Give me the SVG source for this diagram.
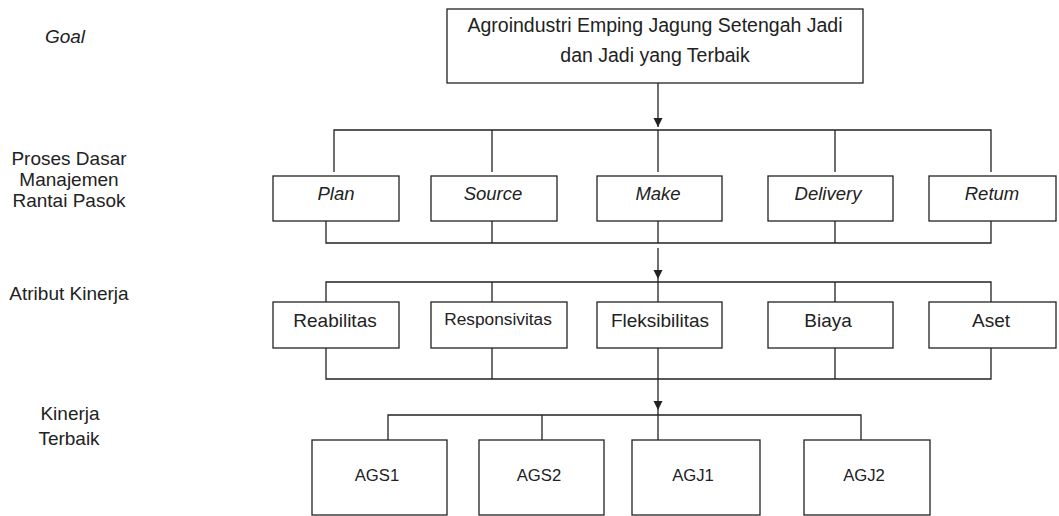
<svg xmlns="http://www.w3.org/2000/svg" width="1059" height="516" viewBox="0 0 1059 516">
  <style>
    .box { fill: #ffffff; stroke: #222222; stroke-width: 1.3; }
    .ln { fill: none; stroke: #222222; stroke-width: 1.3; }
    text { font-family: "Liberation Sans", Arial, sans-serif; fill: #222222; text-anchor: middle; }
    .lvl { font-size: 19px; }
    .it { font-style: italic; }
    .t18 { font-size: 18.5px; }
    .t19 { font-size: 19px; }
    .t17 { font-size: 17.3px; }
    .t16 { font-size: 16.7px; }
  </style>
  <defs>
    <marker id="arrow" viewBox="0 0 10 10" refX="10" refY="5" markerWidth="9" markerHeight="10" markerUnits="userSpaceOnUse" orient="auto">
      <path d="M0,0 L10,5 L0,10 Z" fill="#222222"/>
    </marker>
  </defs>

  <!-- level labels on the left -->
  <g id="level-labels">
    <text class="lvl it" x="65" y="43">Goal</text>
    <text class="lvl" x="69" y="165">Proses Dasar</text>
    <text class="lvl" x="69" y="186">Manajemen</text>
    <text class="lvl" x="69" y="207">Rantai Pasok</text>
    <text class="lvl" x="69" y="300">Atribut Kinerja</text>
    <text class="lvl" x="70" y="420">Kinerja</text>
    <text class="lvl" x="69" y="445">Terbaik</text>
  </g>

  <!-- connectors -->
  <g id="connectors">
    <line class="ln" x1="658" y1="83" x2="658" y2="127" marker-end="url(#arrow)"/>
    <path class="ln" d="M334,172 V130 H991 V172 M492,130 V172 M658,130 V172 M835,130 V172"/>
    <path class="ln" d="M326,221 V243 H991 V221 M492,221 V243 M658,221 V243 M835,221 V243"/>
    <line class="ln" x1="658" y1="248" x2="658" y2="279" marker-end="url(#arrow)"/>
    <path class="ln" d="M326,302 V282 H991 V302 M492,282 V302 M658,279 V302 M835,282 V302"/>
    <path class="ln" d="M326,348 V379 H991 V348 M492,348 V379 M658,348 V379 M835,348 V379"/>
    <line class="ln" x1="658" y1="379" x2="658" y2="410" marker-end="url(#arrow)"/>
    <path class="ln" d="M388,440 V415 H861 V440 M542,415 V440 M658,410 V440"/>
  </g>

  <!-- goal -->
  <g id="goal">
    <rect class="box" x="447" y="9" width="416" height="74"/>
    <text class="t19" x="655" y="32" style="font-size:19.5px">Agroindustri Emping Jagung Setengah Jadi</text>
    <text class="t19" x="655" y="62" style="font-size:19.5px">dan Jadi yang Terbaik</text>
  </g>

  <!-- basic supply chain processes -->
  <g id="plan">
    <rect class="box" x="273" y="176" width="126" height="45"/>
    <text class="t18 it" x="336" y="200">Plan</text>
  </g>
  <g id="source">
    <rect class="box" x="431" y="176" width="126" height="45"/>
    <text class="t18 it" x="493" y="200">Source</text>
  </g>
  <g id="make">
    <rect class="box" x="597" y="176" width="125" height="45"/>
    <text class="t18 it" x="658" y="200">Make</text>
  </g>
  <g id="delivery">
    <rect class="box" x="768" y="176" width="125" height="45"/>
    <text class="t18 it" x="828" y="200">Delivery</text>
  </g>
  <g id="return">
    <rect class="box" x="929" y="176" width="127" height="45"/>
    <text class="t18 it" x="992" y="200">Retum</text>
  </g>

  <!-- performance attributes -->
  <g id="reabilitas">
    <rect class="box" x="273" y="302" width="126" height="46"/>
    <text class="t19" x="335" y="327">Reabilitas</text>
  </g>
  <g id="responsivitas">
    <rect class="box" x="431" y="302" width="136" height="46"/>
    <text class="t17" x="498" y="325">Responsivitas</text>
  </g>
  <g id="fleksibilitas">
    <rect class="box" x="597" y="302" width="125" height="46"/>
    <text class="t19" x="660" y="327">Fleksibilitas</text>
  </g>
  <g id="biaya">
    <rect class="box" x="768" y="302" width="125" height="46"/>
    <text class="t19" x="828" y="327">Biaya</text>
  </g>
  <g id="aset">
    <rect class="box" x="929" y="302" width="127" height="46"/>
    <text class="t19" x="991" y="327">Aset</text>
  </g>

  <!-- best performers -->
  <g id="ags1">
    <rect class="box" x="312" y="440" width="135" height="75"/>
    <text class="t16" x="377" y="481">AGS1</text>
  </g>
  <g id="ags2">
    <rect class="box" x="479" y="440" width="125" height="75"/>
    <text class="t16" x="539" y="481">AGS2</text>
  </g>
  <g id="agj1">
    <rect class="box" x="632" y="440" width="128" height="75"/>
    <text class="t16" x="693" y="481">AGJ1</text>
  </g>
  <g id="agj2">
    <rect class="box" x="804" y="440" width="126" height="75"/>
    <text class="t16" x="864" y="481">AGJ2</text>
  </g>
</svg>
